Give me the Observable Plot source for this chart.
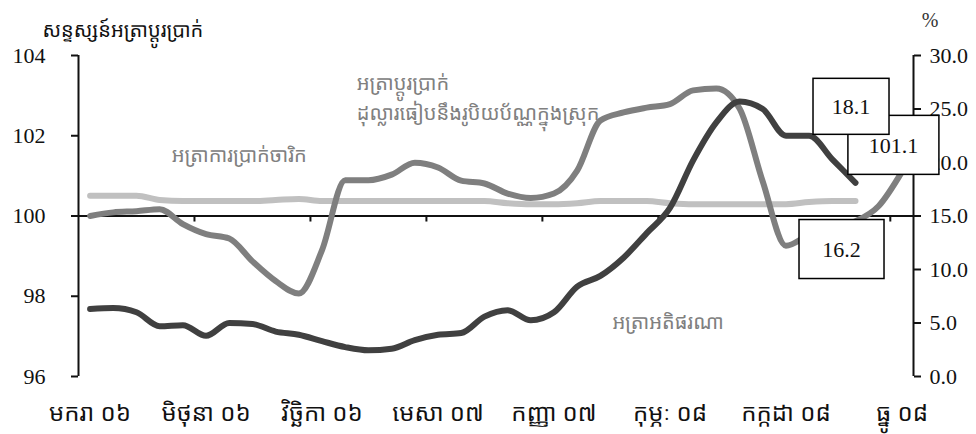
<!DOCTYPE html>
<html><head><meta charset="utf-8">
<script src="https://cdn.jsdelivr.net/npm/d3@7"></script>
<script src="https://cdn.jsdelivr.net/npm/@observablehq/plot@0.6"></script>
<style>body{margin:0;background:#fff}</style>
</head><body><div id="chart"></div>
<script>
// ---- data ----
const monthTickLabels = ["មករា ០៦","មិថុនា ០៦","វិច្ឆិកា ០៦","មេសា ០៧","កញ្ញា ០៧","កុម្ភៈ ០៨","កក្កដា ០៨","ធ្នូ ០៨"];
// exchange-rate index (left axis), Jan 06 .. Dec 08
const exchangeIndex = [100.0,100.09,100.12,100.17,99.80,99.55,99.44,98.87,98.38,98.07,99.15,100.89,
  100.89,101.03,101.33,101.21,100.88,100.81,100.56,100.45,100.56,101.13,102.38,102.58,
  102.70,102.79,103.13,103.18,102.68,100.86,99.26,99.53,99.70,99.87,100.25,101.1];
// inflation, percent (right axis), Jan 06 .. Oct 08
const inflationPct = [6.3,6.4,6.0,4.7,4.8,3.8,5.0,4.9,4.2,3.9,3.3,2.75,
  2.45,2.6,3.4,3.9,4.06,5.6,6.2,5.25,6.0,8.4,9.4,11.1,
  13.4,15.75,20.2,23.75,25.7,25.0,22.5,22.5,20.3,18.1];
// interest rate, percent (right axis), Jan 06 .. Oct 08
const interestPct = [16.9,16.9,16.9,16.5,16.4,16.4,16.4,16.4,16.5,16.6,16.4,16.4,
  16.4,16.4,16.4,16.4,16.4,16.4,16.2,16.1,16.1,16.2,16.4,16.4,
  16.4,16.2,16.1,16.1,16.1,16.1,16.1,16.3,16.4,16.4];
const leftTicks = [96,98,100,102,104];
const rightTicks = [0,5,10,15,20,25,30];
const labelEvery = 5;
const boxLabels = {inflation: "18.1", exchange: "101.1", interest: "16.2"};
const titleText = "សន្ទស្សន៍អត្រាប្តូរប្រាក់";
const exchLabel = "អត្រាប្តូរប្រាក់\nដុល្លារធៀបនឹងរូបិយប័ណ្ណក្នុងស្រុក";
const interestLabel = "អត្រាការប្រាក់ចារិក";
const inflationLabel = "អត្រាអតិផរណា";

// ---- helpers ----
const toLeft = p => 96 + p * 8 / 30;
const toPct = v => (v - 96) * 30 / 8;
const exch = exchangeIndex.map((v, i) => ({i, v}));
const infl = inflationPct.map((p, i) => ({i, v: toLeft(p)}));
const intr = interestPct.map((p, i) => ({i, v: toLeft(p)}));
const tickIdx = monthTickLabels.map((_, k) => k * labelEvery);
const boundaries = tickIdx.slice(1).map(i => i - 0.5);

const numFont = "'Liberation Serif','Times New Roman',serif";
const khFont = "'Noto Sans Khmer','Noto Serif Khmer','Khmer OS','Khmer OS System','Khmer OS Content',sans-serif";

function box(point, label, dx, dy, w, h) {
  return (index, scales) => {
    const cx = scales.x(point.i) + dx, cy = scales.y(point.v) + dy;
    const g = d3.create("svg:g");
    g.append("rect").attr("x", cx - w/2).attr("y", cy - h/2).attr("width", w).attr("height", h)
      .attr("fill", "#fff").attr("stroke", "#000").attr("stroke-width", 1.5);
    g.append("text").attr("x", cx).attr("y", cy).attr("text-anchor", "middle").attr("dy", "0.35em")
      .attr("font-family", numFont).attr("font-size", 22).attr("fill", "#111").text(label);
    return g.node();
  };
}

const last = a => a[a.length - 1];

const chart = Plot.plot({
  width: 976, height: 434,
  marginLeft: 78, marginRight: 63, marginTop: 55, marginBottom: 58,
  style: {background: "#fff", color: "#111"},
  x: {type: "linear", domain: [-0.5, exchangeIndex.length - 0.5]},
  y: {domain: [96, 104]},
  marks: [
    Plot.ruleY([100], {stroke: "#111", strokeWidth: 2}),
    Plot.ruleX(boundaries, {y1: 100, y2: 99.85, stroke: "#111", strokeWidth: 2}),
    Plot.line(intr, {x: "i", y: "v", stroke: "#c0c0c0", strokeWidth: 6, curve: "monotone-x"}),
    Plot.line(exch, {x: "i", y: "v", stroke: "#7f7f7f", strokeWidth: 6, curve: "monotone-x"}),
    Plot.line(infl, {x: "i", y: "v", stroke: "#404040", strokeWidth: 6, curve: "monotone-x"}),
    Plot.ruleX([-0.5, exchangeIndex.length - 0.5], {stroke: "#111", strokeWidth: 2}),
    Plot.axisY({ticks: leftTicks, tickFormat: d => String(d), tickSize: 7, tickPadding: 26,
      fontSize: 22, fontFamily: numFont, label: null, strokeWidth: 2, color: "#111"}),
    Plot.axisY({anchor: "right", ticks: rightTicks.map(toLeft), tickFormat: v => toPct(v).toFixed(1),
      tickSize: 7, tickPadding: 9, fontSize: 22, fontFamily: numFont, label: null, strokeWidth: 2, color: "#111"}),
    Plot.axisX({ticks: tickIdx, tickFormat: i => monthTickLabels[i / labelEvery], tickSize: 0, tickPadding: 27,
      fontSize: 24, fontFamily: khFont, label: null, color: "#111"}),
    Plot.text([titleText], {frameAnchor: "top-left", text: d => d, dx: -36, dy: -33, textAnchor: "start",
      fontSize: 20, fontFamily: khFont, fill: "#111"}),
    Plot.text(["%"], {frameAnchor: "top-right", text: d => d, dx: 25, dy: -43,
      fontSize: 20, fontFamily: numFont, fill: "#333"}),
    Plot.text([intr[6]], {x: "i", y: "v", text: () => interestLabel, dx: 10, dy: -45,
      fontSize: 20, fontFamily: khFont, fill: "#808080"}),
    Plot.text([exch[14]], {x: "i", y: "v", text: () => exchLabel, dx: -58, dy: -67, textAnchor: "start",
      lineHeight: 1.5, fontSize: 20, fontFamily: khFont, fill: "#808080"}),
    Plot.text([infl[22]], {x: "i", y: "v", text: () => inflationLabel, dx: 12, dy: 47, textAnchor: "start",
      fontSize: 20, fontFamily: khFont, fill: "#808080"}),
    box(last(exch), boxLabels.exchange, -8, -26.5, 91, 59),
    box(last(infl), boxLabels.inflation, -4, -76, 76, 56),
    box(last(intr), boxLabels.interest, -13.5, 48.5, 85, 59)
  ]
});
document.getElementById("chart").append(chart);
</script>
</body></html>
